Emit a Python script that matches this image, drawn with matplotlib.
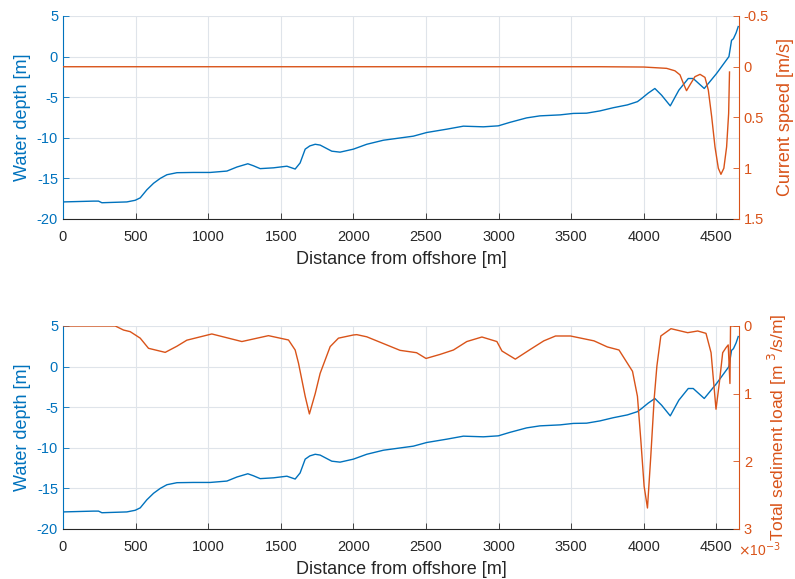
import numpy as np
import matplotlib
matplotlib.use("Agg")
import matplotlib.pyplot as plt
from matplotlib.ticker import FuncFormatter

plt.rcParams['font.family'] = ['Liberation Sans', 'DejaVu Sans']
plt.rcParams['axes.unicode_minus'] = False

BLUE = '#0072BD'
ORANGE = '#D95319'
DARK = '#262626'
TICK_FS = 10.5
LABEL_FS = 13

# bed profile (distance [m], water depth [m])
depth_x = [0, 211, 245, 268, 440, 497, 532, 578, 624, 670, 716, 785, 899, 1014, 1129,
           1198, 1273, 1312, 1358, 1450, 1542, 1599, 1633, 1668, 1700, 1737, 1771,
           1851, 1908, 2000, 2092, 2207, 2413, 2505, 2643, 2757, 2895, 2998, 3078,
           3193, 3285, 3423, 3514, 3606, 3698, 3789, 3887, 3956, 3985, 4030, 4076,
           4122, 4182, 4241, 4306, 4340, 4416, 4501, 4586, 4604, 4617, 4635, 4650]
depth_y = [-17.9, -17.8, -17.8, -18.0, -17.9, -17.7, -17.4, -16.4, -15.6, -15.0,
           -14.55, -14.3, -14.27, -14.27, -14.1, -13.6, -13.2, -13.45, -13.8, -13.7,
           -13.5, -13.85, -13.1, -11.4, -11.0, -10.8, -10.9, -11.65, -11.77, -11.4,
           -10.8, -10.3, -9.8, -9.35, -8.94, -8.57, -8.65, -8.53, -8.1, -7.55, -7.3,
           -7.18, -7.0, -6.97, -6.69, -6.3, -5.95, -5.55, -5.16, -4.5, -3.93, -4.75,
           -6.07, -4.14, -2.7, -2.7, -3.93, -2.08, 0.0, 2.0, 2.2, 2.9, 3.7]

# depth-averaged current speed [m/s]
speed_x = [0, 3698, 4000, 4157, 4214, 4249, 4271, 4294, 4317, 4352, 4387, 4421, 4444,
           4467, 4490, 4513, 4531, 4551, 4570, 4584, 4590]
speed_y = [0.0, 0.0, 0.003, 0.016, 0.04, 0.08, 0.16, 0.236, 0.18, 0.098, 0.075, 0.105,
           0.23, 0.49, 0.79, 1.0, 1.06, 1.0, 0.79, 0.46, 0.052]

# total sediment load [1e-3 m^3/s/m]
load_x = [0, 360, 417, 463, 532, 589, 704, 784, 853, 1025, 1232, 1415, 1553, 1599, 1622,
          1668, 1697, 1737, 1771, 1840, 1897, 2000, 2023, 2092, 2321, 2435, 2500, 2597,
          2689, 2781, 2885, 2988, 3023, 3115, 3219, 3311, 3392, 3495, 3657, 3749, 3829,
          3922, 3956, 3979, 4002, 4025, 4048, 4071, 4090, 4117, 4187, 4302, 4371, 4428,
          4463, 4481, 4497, 4520, 4543, 4566, 4581, 4593, 4597, 4650]
load_y = [0.0, 0.0, 0.06, 0.084, 0.18, 0.33, 0.39, 0.3, 0.21, 0.118, 0.23, 0.143, 0.207,
          0.355, 0.55, 1.04, 1.30, 1.0, 0.70, 0.305, 0.18, 0.133, 0.128, 0.16, 0.36, 0.395,
          0.48, 0.42, 0.355, 0.23, 0.163, 0.23, 0.37, 0.49, 0.345, 0.22, 0.148, 0.148,
          0.22, 0.31, 0.355, 0.67, 1.04, 1.68, 2.37, 2.69, 1.92, 1.08, 0.59, 0.148, 0.04,
          0.099, 0.074, 0.109, 0.395, 0.84, 1.23, 0.84, 0.395, 0.32, 0.28, 0.85, 0.0, 0.0]
load_y = [v * 1e-3 for v in load_y]

x_ticks = np.arange(0, 5000, 500)


def style_pair(ax, ax2):
    ax.set_xlim(0, 4655)
    ax.set_ylim(-20, 5)
    ax.set_xticks(x_ticks)
    ax.set_yticks(np.arange(-20, 6, 5))
    ax.grid(True, color='#dfe4ea', lw=0.8)
    ax.set_axisbelow(True)
    ax.tick_params(direction='in', length=4, width=0.6, labelsize=TICK_FS)
    ax.tick_params(axis='x', colors=DARK, pad=8)
    ax.tick_params(axis='y', colors=BLUE)
    ax.spines['left'].set_color(BLUE)
    ax.spines['bottom'].set_color(DARK)
    ax.spines['top'].set_visible(False)
    ax.spines['right'].set_visible(False)
    ax.set_xlabel('Distance from offshore [m]', color=DARK, fontsize=LABEL_FS, labelpad=5)
    ax.set_ylabel('Water depth [m]', color=BLUE, fontsize=LABEL_FS, labelpad=4)
    ax2.spines['right'].set_color(ORANGE)
    ax2.spines['top'].set_visible(False)
    ax2.spines['left'].set_visible(False)
    ax2.spines['bottom'].set_visible(False)
    ax2.tick_params(direction='in', length=4, width=0.6, colors=ORANGE, labelsize=TICK_FS)


fig = plt.figure(figsize=(7.95, 5.79), dpi=100)

# current speed
ax1 = fig.add_axes([0.0792, 0.6218, 0.8503, 0.3506])
ax1b = ax1.twinx()
ax1.plot(depth_x, depth_y, color=BLUE, lw=1.0)
ax1b.plot(speed_x, speed_y, color=ORANGE, lw=1.0)
style_pair(ax1, ax1b)
ax1b.set_ylim(1.5, -0.5)
ax1b.set_yticks([-0.5, 0, 0.5, 1, 1.5])
ax1b.yaxis.set_major_formatter(FuncFormatter(lambda v, p: '%g' % v))
ax1b.set_ylabel('Current speed [m/s]', color=ORANGE, fontsize=LABEL_FS, labelpad=6)

# sediment load
ax2 = fig.add_axes([0.0792, 0.0864, 0.8503, 0.3506])
ax2b = ax2.twinx()
ax2.plot(depth_x, depth_y, color=BLUE, lw=1.0)
ax2b.plot(load_x, load_y, color=ORANGE, lw=1.0)
style_pair(ax2, ax2b)
ax2b.set_ylim(3e-3, 0)
ax2b.set_yticks([0, 1e-3, 2e-3, 3e-3])
ax2b.yaxis.set_major_formatter(FuncFormatter(lambda v, p: '%g' % round(v * 1e3, 6)))
ax2b.set_ylabel(r'Total sediment load [m $^3$/s/m]', color=ORANGE, fontsize=12.5,
                labelpad=10)
ax2b.text(0.998, -0.055, r'$\times$10$^{-3}$', transform=ax2b.transAxes, color=ORANGE,
          fontsize=10, ha='left', va='top')

fig.savefig('out.png', dpi=100)
